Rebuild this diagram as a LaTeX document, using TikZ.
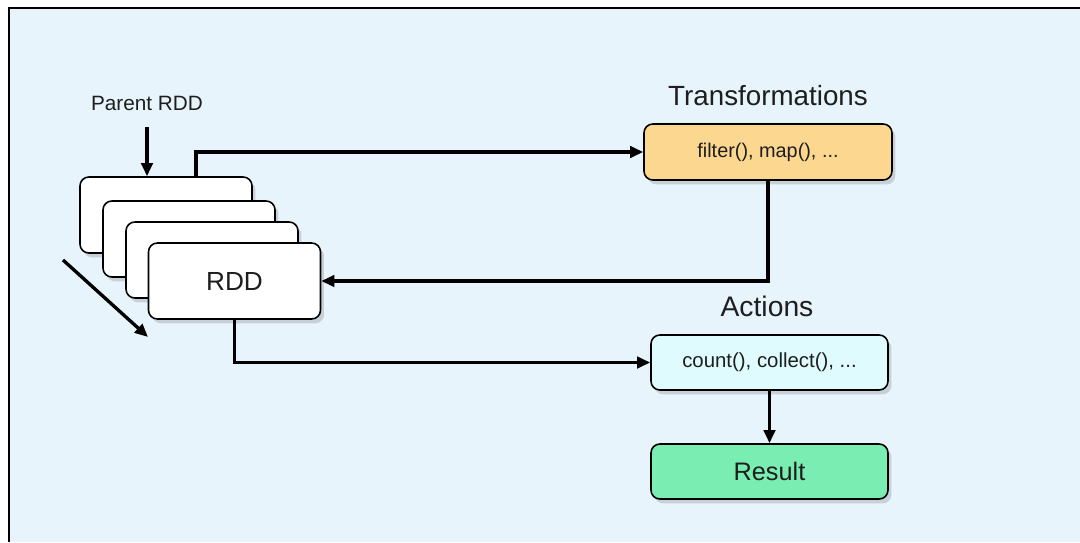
\documentclass[tikz,border=0pt]{standalone}
\usepackage{xcolor}
\usepackage{fontspec}
\setmainfont{Liberation Sans}
\usetikzlibrary{arrows.meta,shadows}

\definecolor{bgblue}{RGB}{231,244,252}
\definecolor{transorange}{RGB}{251,215,143}
\definecolor{actcyan}{RGB}{223,251,253}
\definecolor{resgreen}{RGB}{122,238,178}
\definecolor{txtgray}{RGB}{30,30,30}

\begin{document}
\begin{tikzpicture}
                        [x=0.02cm, y=-0.02cm,
                        rdd/.style = {draw=black, line width=0.9pt, fill=white,
                                    rounded corners=5pt,
                                    minimum width=3.44cm, minimum height=1.52cm,
                                    drop shadow={shadow xshift=2pt, shadow yshift=-2.5pt,
                                                 opacity=0.3}},
                        op/.style = {draw=black, line width=0.9pt,
                                    rounded corners=5pt,
                                    minimum width=4.74cm, minimum height=1.1cm,
                                    drop shadow={shadow xshift=2pt, shadow yshift=-2.5pt,
                                                 opacity=0.3}},
                        conn/.style = {line width=1.9pt,
                                    -{Triangle[length=7.5pt,width=6.5pt]}},
                        every node/.style = {text=txtgray}]
                        \useasboundingbox (0,0) rectangle (1080,542);
                        \fill[bgblue] (9,8) rectangle (1080,542);
                        \draw[line width=1.1pt] (1080,8) -- (9,8) -- (9,542);
                        % Parent RDD
                        \node (parent) at (147,103) {\fontsize{11.8}{14}\selectfont Parent RDD};
                        % Stack of RDDs
                        \node[rdd] (box1) at (166,215) {};
                        \node[rdd] (box2) at (189,239) {};
                        \node[rdd] (box3) at (212,260) {};
                        \node[rdd] (rdd) at (234.5,281) {\fontsize{14.9}{18}\selectfont RDD};
                        % Transformations
                        \node at (768,96) {\fontsize{15.8}{19}\selectfont Transformations};
                        \node[op, fill=transorange, minimum width=4.96cm, minimum height=1.12cm]
                            (trans) at (768,152) {\fontsize{11.3}{14}\selectfont filter(), map(), ...};
                        % Actions
                        \node at (767,306) {\fontsize{16.1}{19}\selectfont Actions};
                        \node[op, fill=actcyan] (act) at (769.5,362.5) {\fontsize{11.6}{14}\selectfont count(), collect(), ...};
                        \node[op, fill=resgreen] (res) at (769.5,471.5) {\fontsize{14.4}{17}\selectfont Result};
                        % Arrows
                        \coordinate (sa) at (63,260);
                        \coordinate (sb) at (148,337);
                        \draw[conn] ([yshift=-6pt]parent.south) -- (parent.south |- box1.north);
                        \draw[conn] (sa) -- (sb);
                        \draw[conn] ([xshift=0.6cm]box1.north) |- (trans.west);
                        \draw[conn] (trans.south) |- (rdd.east);
                        \draw[conn] (rdd.south) |- (act.west);
                        \draw[conn] (act.south) -- (res.north);
                    \end{tikzpicture}
\end{document}
